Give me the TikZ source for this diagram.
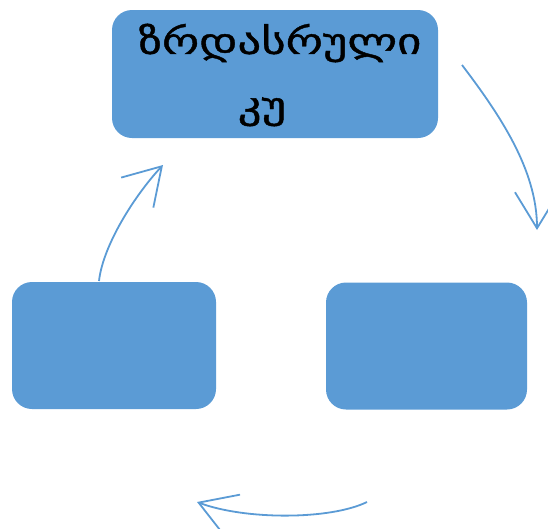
\documentclass[tikz,border=0pt]{standalone}
\usepackage{fontspec}
\newfontfamily\geofont[FakeStretch=1.3,FakeBold=1.2]{DejaVu Sans}
\usetikzlibrary{arrows.meta}
\definecolor{boxblue}{HTML}{5B9BD5}
\begin{document}
\begin{tikzpicture}[x=1pt,y=-1pt,
  stagebox/.style={fill=boxblue,draw=none,rounded corners=20pt,inner sep=0pt},
  cyclearrow/.style={draw=boxblue,line width=1.8pt,-{Straight Barb[length=36pt,width=44pt,line width=1.8pt]}}]
\useasboundingbox (0,0) rectangle (548,528);
\node[stagebox,minimum width=326pt,minimum height=128pt] (adult) at (275,74) {};
\node[stagebox,minimum width=204pt,minimum height=127pt] (left) at (114,345.5) {};
\node[stagebox,minimum width=201pt,minimum height=127pt] (right) at (426.5,346) {};
\node[font=\geofont\fontsize{36}{64}\selectfont,align=center,text=black] (label) at ([xshift=5pt,yshift=-1pt]adult.center) {ზრდასრული\\კუ\hspace*{36pt}};
\coordinate (a1) at (462,65);
\coordinate (a2) at (537,230);
\coordinate (b1) at (367,502);
\coordinate (b2) at (197,502);
\coordinate (c1) at (99,281);
\coordinate (c2) at (163,165);
\draw[cyclearrow] (a1) .. controls (500,115) and (537,170) .. (a2);
\draw[cyclearrow] (b1) .. controls (330,520) and (245,520) .. (b2);
\draw[cyclearrow] (c1) .. controls (103,245) and (135,195) .. (c2);
\end{tikzpicture}
\end{document}
